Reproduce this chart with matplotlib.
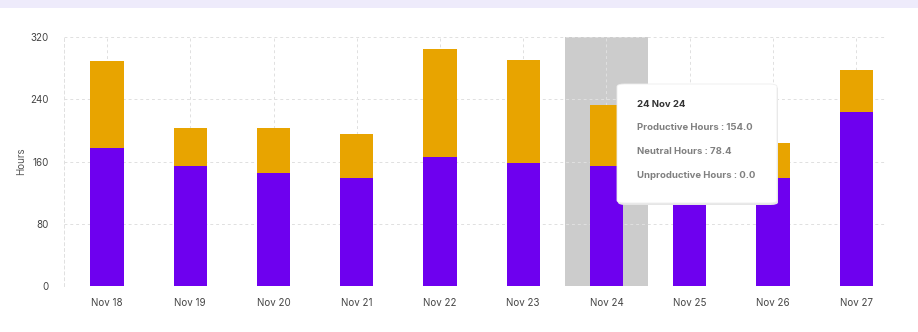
import matplotlib.pyplot as plt
from matplotlib.patches import FancyBboxPatch, Rectangle

# Daily hours -------------------------------------
days = ['Nov 18', 'Nov 19', 'Nov 20', 'Nov 21', 'Nov 22',
        'Nov 23', 'Nov 24', 'Nov 25', 'Nov 26', 'Nov 27']
productive = [177, 154, 145, 139, 166, 158, 154.0, 140, 139, 224]
neutral = [112, 49, 58, 56, 139, 132, 78.4, 50, 45, 54]
unproductive = [0, 0, 0, 0, 0, 0, 0.0, 0, 0, 0]
y_ticks = [0, 80, 160, 240, 320]

hover = 6  # highlighted day
hover_label = '24 Nov 24'

purple = '#6e00ef'
orange = '#e8a400'

plt.rcParams['font.family'] = ['Inter', 'DejaVu Sans']

fig = plt.figure(figsize=(9.18, 3.32), dpi=100)
fig.patch.set_facecolor('white')

# lavender band along the top edge
fig.patches.append(Rectangle((0, 1 - 8/332), 1, 8/332, transform=fig.transFigure,
                             facecolor='#eeebfb', edgecolor='none', zorder=0))

ax = fig.add_axes([64/918, 46/332, 823/918, 249/332])
x = list(range(len(days)))

ax.axvspan(hover - 0.5, hover + 0.5, color='#cccccc', zorder=1, lw=0)
ax.bar(x, productive, width=0.4, color=purple, zorder=2)
base = [p for p in productive]
ax.bar(x, neutral, width=0.4, bottom=base, color=orange, zorder=2)
base2 = [p + n for p, n in zip(productive, neutral)]
ax.bar(x, unproductive, width=0.4, bottom=base2, color='#e5484d', zorder=2)

ax.set_xlim(-0.517, 9.37)
ax.set_ylim(0, 320)
ax.set_yticks(y_ticks)
ax.set_yticklabels([str(v) for v in y_ticks])
ax.set_xticks(x)
ax.set_xticklabels(days)
ax.tick_params(length=0, labelsize=7, colors='#444444', pad=9)
ax.tick_params(axis='y', pad=11)
ax.set_ylabel('Hours', fontsize=7, color='#555555', labelpad=3)

ax.grid(True, color='#e0e0e0', linestyle=(0, (3, 3)), linewidth=0.7, zorder=0)
for s in ['top', 'right', 'bottom']:
    ax.spines[s].set_visible(False)
ax.spines['left'].set_color('#e0e0e0')
ax.spines['left'].set_linestyle((0, (3, 3)))
ax.spines['left'].set_linewidth(0.7)

# tooltip box
W, H = 918, 332
bx, by, bw, bh = 617, 84, 160, 119
shadow = FancyBboxPatch(((bx + 1)/W, 1 - (by + bh + 2)/H), bw/W, bh/H,
                        boxstyle='round,pad=0,rounding_size=0.008',
                        transform=fig.transFigure, facecolor='#e6e6e6',
                        edgecolor='none', zorder=5)
box = FancyBboxPatch((bx/W, 1 - (by + bh)/H), bw/W, bh/H,
                     boxstyle='round,pad=0,rounding_size=0.008',
                     transform=fig.transFigure, facecolor='white',
                     edgecolor='#eeeeee', linewidth=0.6, zorder=6)
fig.patches.extend([shadow, box])

lines = [
    (hover_label, 105, '#333333'),
    (f'Productive Hours : {productive[hover]:.1f}', 128, '#808080'),
    (f'Neutral Hours : {neutral[hover]:.1f}', 152, '#808080'),
    (f'Unproductive Hours : {unproductive[hover]:.1f}', 176, '#808080'),
]
for txt, ty, col in lines:
    fig.text(637/W, 1 - ty/H, txt, fontsize=6.9, fontweight='bold',
             color=col, va='center', ha='left', zorder=7)

fig.savefig('out.png', dpi=100)
